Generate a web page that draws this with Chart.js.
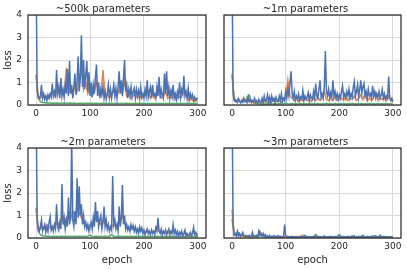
<!DOCTYPE html>
<html>
<head>
<meta charset="utf-8">
<script src="https://cdn.jsdelivr.net/npm/chart.js@4.4.0/dist/chart.umd.min.js"></script>
<style>
  body { margin: 0; background: #fff; width: 407px; height: 270px; overflow: hidden; position: relative; }
  .panel { position: absolute; }
</style>
</head>
<body>
<div class="panel" style="left:0;top:0"><canvas id="p500k" width="210" height="125"></canvas></div>
<div class="panel" style="left:210px;top:0"><canvas id="p1m" width="197" height="125"></canvas></div>
<div class="panel" style="left:0;top:133px"><canvas id="p2m" width="210" height="137"></canvas></div>
<div class="panel" style="left:210px;top:133px"><canvas id="p3m" width="197" height="137"></canvas></div>
<script>
// tick labels
const xTicks = [0, 100, 200, 300];
const yTicks = [0, 1, 2, 3, 4];

// blue is logged every 2 epochs, orange / green every 4
const blueStep = 2;
const otherStep = 4;

// ~500k parameters
const blue500k = [
  6.0,0.6,0.35,0.3,0.4,0.9,0.3,0.5,0.25,0.4,
  0.2,0.45,0.3,0.5,0.35,0.95,0.4,0.6,0.3,1.55,
  0.5,0.8,0.3,1.2,0.4,0.7,0.35,0.9,0.5,1.6,
  0.4,1.95,0.5,0.9,0.3,0.8,1.4,0.45,1.0,2.15,
  0.6,1.2,3.1,0.8,2.0,0.7,1.3,1.95,0.6,1.45,
  0.4,1.0,0.35,0.9,0.5,1.25,1.8,0.4,1.0,0.3,
  0.7,0.45,0.8,0.3,0.6,0.25,0.5,0.9,0.35,0.7,
  0.3,0.6,0.9,0.4,0.75,0.3,0.8,1.5,0.5,1.1,
  0.4,1.2,2.0,0.6,0.9,0.3,0.7,0.4,0.8,0.35,
  0.6,0.75,0.3,0.7,0.4,0.65,0.3,0.8,0.35,0.5,
  0.3,0.7,0.4,1.1,0.35,0.6,0.8,0.3,0.9,0.4,
  0.5,0.3,0.8,0.4,1.25,0.3,0.7,0.45,0.3,1.4,
  0.5,1.5,0.4,0.8,0.3,0.65,0.4,0.9,0.3,0.5,
  0.25,0.6,0.4,1.0,0.35,0.7,0.5,1.3,0.4,0.6,
  0.3,0.75,0.25,0.5,0.3,0.45,0.2,0.35,0.2,0.3,
  0.3
];
const orange500k = [
  1.35,0.4,0.3,0.5,0.35,0.4,0.3,0.5,0.6,0.4,
  0.9,0.5,0.6,0.4,1.65,0.5,0.8,0.4,0.9,0.6,
  1.0,1.8,0.7,1.0,0.5,0.8,0.4,0.6,1.0,0.5,
  0.4,1.55,0.4,0.5,0.3,0.5,0.6,0.4,0.5,0.9,
  0.5,1.1,0.4,0.5,0.3,0.4,0.5,0.3,0.4,0.3,
  0.5,0.4,0.6,0.3,0.5,0.3,0.4,0.7,0.3,0.4,
  0.6,0.3,0.4,0.3,0.5,0.2,0.4,0.3,0.5,0.6,
  0.3,0.2,0.3,0.15,0.2,0.2
];
const green500k = [
  1.3,0.3,0.15,0.11,0.1,0.09,0.1,0.08,0.09,0.08,
  0.09,0.08,0.08,0.09,0.08,0.08,0.09,0.08,0.08,0.07,
  0.08,0.08,0.07,0.08,0.08,0.07,0.08,0.07,0.08,0.07,
  0.07,0.08,0.07,0.07,0.08,0.07,0.07,0.08,0.07,0.07,
  0.07,0.07,0.08,0.07,0.07,0.07,0.07,0.07,0.08,0.07,
  0.07,0.07,0.07,0.07,0.07,0.07,0.07,0.07,0.07,0.07,
  0.07,0.07,0.07,0.07,0.07,0.07,0.07,0.07,0.07,0.07,
  0.07,0.07,0.07,0.07,0.07,0.07
];

// ~1m parameters
const blue1m = [
  6.0,0.5,0.2,0.15,0.2,0.12,0.25,0.15,0.1,0.2,
  0.12,0.3,0.15,0.2,0.1,0.35,0.15,0.25,0.1,0.2,
  0.15,0.3,0.12,0.2,0.1,0.25,0.15,0.1,0.3,0.12,
  0.4,0.15,0.2,0.45,0.15,0.35,0.1,0.4,0.2,0.3,
  0.12,0.35,0.2,0.15,0.4,0.2,0.5,0.15,0.3,0.2,
  0.6,0.3,0.7,0.4,1.0,1.5,0.5,0.3,0.6,0.2,
  0.4,0.25,0.5,0.2,0.35,0.25,0.65,0.2,0.4,0.25,
  0.35,0.55,0.2,0.45,0.3,0.25,0.6,0.3,0.95,0.4,
  0.3,0.7,1.1,0.35,0.5,0.3,0.8,2.4,0.6,0.4,
  0.7,0.3,0.55,0.35,1.1,0.4,0.6,0.3,0.5,0.25,
  0.45,0.3,0.6,0.85,0.35,0.5,0.3,0.6,0.4,0.7,
  0.3,0.5,0.35,0.8,1.05,0.4,0.6,0.9,0.35,0.7,
  1.1,0.5,0.8,0.95,0.4,0.6,0.3,0.7,0.4,0.5,
  0.3,0.85,0.4,0.6,0.3,0.5,0.35,0.6,0.3,0.45,
  0.7,0.3,0.5,0.25,0.4,0.3,1.27,0.35,0.2,0.3,
  0.15
];
const orange1m = [
  1.4,0.2,0.15,0.2,0.15,0.25,0.2,0.3,0.15,0.2,
  0.1,0.15,0.1,0.15,0.1,0.2,0.12,0.15,0.1,0.2,
  0.12,0.15,0.2,0.1,0.25,0.3,1.1,0.4,0.3,0.2,
  0.3,0.15,0.25,0.2,0.3,0.2,0.25,0.15,0.3,0.2,
  0.35,0.2,0.3,0.6,0.25,0.2,0.3,0.2,0.35,0.2,
  0.25,0.3,0.2,0.35,0.2,0.3,0.25,0.4,0.2,0.3,
  0.45,0.25,0.5,0.2,0.3,0.2,0.35,0.55,0.2,0.3,
  0.25,0.3,0.2,0.4,0.2,0.15
];
const green1m = [
  1.3,0.35,0.15,0.3,0.1,0.25,0.15,0.35,0.45,0.15,
  0.1,0.06,0.08,0.05,0.07,0.05,0.06,0.05,0.07,0.05,
  0.06,0.05,0.07,0.05,0.06,0.08,0.06,0.05,0.07,0.05,
  0.06,0.05,0.07,0.05,0.06,0.05,0.07,0.05,0.06,0.05,
  0.07,0.05,0.06,0.05,0.08,0.05,0.06,0.05,0.07,0.05,
  0.06,0.05,0.07,0.05,0.06,0.05,0.08,0.05,0.06,0.05,
  0.07,0.05,0.06,0.05,0.07,0.05,0.06,0.05,0.07,0.05,
  0.06,0.05,0.07,0.05,0.06,0.05
];

// ~2m parameters
const blue2m = [
  6.0,0.8,0.4,0.3,0.5,0.8,0.3,0.45,0.6,0.25,
  0.5,0.3,0.7,0.95,0.35,0.5,0.3,0.6,0.4,1.5,
  0.5,0.35,0.7,0.4,2.4,0.6,0.9,0.4,0.8,0.5,
  1.8,0.6,1.0,4.3,0.8,0.5,1.2,0.6,2.65,0.9,
  2.3,1.0,1.5,0.6,1.0,0.5,0.7,0.4,0.6,0.3,
  0.5,0.7,0.4,0.9,0.5,1.6,0.7,1.2,0.5,0.8,
  1.0,0.4,0.7,1.4,0.5,0.8,0.4,0.6,0.3,0.5,
  0.35,2.75,0.6,0.8,0.4,0.6,0.3,1.4,0.5,0.9,
  2.35,0.6,1.0,0.4,0.6,0.35,0.5,0.3,0.6,0.4,
  0.55,0.3,0.5,0.25,0.4,0.2,0.5,0.3,0.45,0.2,
  0.35,0.15,0.3,0.4,0.2,0.3,0.15,0.35,0.2,0.3,
  0.15,0.45,0.3,0.9,0.3,0.2,0.4,0.15,0.3,0.2,
  0.35,0.15,0.3,0.4,0.15,0.3,0.2,0.6,0.2,0.35,
  0.15,0.3,0.1,0.25,0.15,0.3,0.1,0.2,0.35,0.1,
  0.2,0.1,0.15,0.25,0.1,0.2,0.47,0.15,0.25,0.1,
  0.1
];
const orange2m = [
  1.35,0.5,0.4,0.5,0.4,0.6,0.5,0.4,0.5,0.6,
  0.7,0.5,1.0,0.6,0.9,1.0,0.8,1.2,0.9,1.4,
  1.1,0.9,0.7,0.6,0.5,0.6,0.5,0.8,0.9,0.7,
  0.6,0.8,0.6,0.5,0.45,0.5,0.6,0.5,0.6,0.7,
  1.0,0.7,0.5,0.4,0.5,0.4,0.35,0.4,0.3,0.35,
  0.3,0.25,0.3,0.2,0.3,0.25,0.5,0.3,0.25,0.2,
  0.25,0.2,0.3,0.25,0.3,0.2,0.15,0.2,0.15,0.2,
  0.15,0.1,0.15,0.3,0.2,0.15
];
const green2m = [
  1.3,0.3,0.15,0.1,0.09,0.08,0.08,0.07,0.08,0.07,
  0.08,0.07,0.08,0.07,0.08,0.07,0.08,0.07,0.08,0.07,
  0.08,0.07,0.08,0.07,0.08,0.13,0.08,0.07,0.08,0.07,
  0.08,0.07,0.08,0.07,0.08,0.15,0.08,0.07,0.08,0.07,
  0.08,0.07,0.08,0.07,0.08,0.07,0.08,0.07,0.08,0.07,
  0.08,0.07,0.08,0.07,0.08,0.07,0.08,0.07,0.08,0.07,
  0.08,0.07,0.08,0.07,0.08,0.07,0.08,0.07,0.08,0.07,
  0.08,0.07,0.08,0.07,0.08,0.07
];

// ~3m parameters
const blue3m = [
  6.0,0.6,0.15,0.2,0.1,0.3,0.1,0.2,0.08,0.15,
  0.25,0.08,0.12,0.05,0.1,0.06,0.12,0.05,0.08,0.25,
  0.06,0.1,0.05,0.12,0.06,0.3,0.1,0.2,0.08,0.2,
  0.06,0.15,0.05,0.1,0.05,0.12,0.04,0.08,0.05,0.1,
  0.04,0.08,0.05,0.1,0.04,0.08,0.05,0.06,0.04,0.6,
  0.1,0.05,0.08,0.03,0.06,0.04,0.08,0.03,0.06,0.04,
  0.07,0.03,0.05,0.04,0.08,0.03,0.06,0.04,0.1,0.03,
  0.05,0.04,0.07,0.03,0.05,0.04,0.06,0.03,0.08,0.04,
  0.05,0.03,0.07,0.04,0.05,0.03,0.09,0.04,0.05,0.03,
  0.06,0.04,0.08,0.03,0.05,0.04,0.07,0.03,0.06,0.04,
  0.1,0.03,0.05,0.04,0.07,0.03,0.06,0.04,0.08,0.03,
  0.05,0.04,0.07,0.03,0.1,0.04,0.05,0.03,0.08,0.04,
  0.06,0.03,0.09,0.04,0.05,0.03,0.07,0.04,0.06,0.03,
  0.08,0.04,0.05,0.03,0.1,0.04,0.06,0.03,0.12,0.04,
  0.05,0.03,0.07,0.04,0.06,0.03,0.05,0.04,0.06,0.03,
  0.05
];
const orange3m = [
  1.25,0.1,0.08,0.15,0.06,0.1,0.05,0.08,0.05,0.06,
  0.05,0.08,0.05,0.25,0.1,0.06,0.05,0.04,0.06,0.04,
  0.05,0.04,0.06,0.04,0.08,0.04,0.05,0.04,0.05,0.04,
  0.05,0.04,0.05,0.12,0.04,0.05,0.04,0.05,0.04,0.05,
  0.04,0.05,0.04,0.06,0.04,0.05,0.04,0.05,0.04,0.05,
  0.08,0.04,0.05,0.04,0.05,0.04,0.05,0.04,0.05,0.04,
  0.05,0.04,0.05,0.04,0.06,0.04,0.05,0.04,0.05,0.04,
  0.05,0.04,0.05,0.04,0.05,0.04
];
const green3m = [
  0.85,0.15,0.2,0.25,0.1,0.15,0.08,0.1,0.06,0.08,
  0.1,0.06,0.05,0.3,0.1,0.08,0.05,0.06,0.05,0.06,
  0.05,0.06,0.05,0.06,0.05,0.06,0.05,0.06,0.05,0.06,
  0.05,0.06,0.05,0.06,0.12,0.05,0.06,0.05,0.06,0.15,
  0.05,0.06,0.05,0.06,0.05,0.06,0.05,0.06,0.05,0.06,
  0.15,0.05,0.06,0.05,0.06,0.05,0.1,0.05,0.06,0.05,
  0.06,0.12,0.05,0.06,0.05,0.06,0.1,0.05,0.06,0.05,
  0.08,0.05,0.06,0.05,0.06,0.05
];

const FONT = "'DejaVu Sans', sans-serif";
const TEXT = '#262626';
const GRID = '#dadada';

// matplotlib-style box round the plot area
const frame = {
  id: 'frame',
  afterDatasetsDraw(chart) {
    const a = chart.chartArea;
    const ctx = chart.ctx;
    ctx.save();
    ctx.strokeStyle = '#2b2b2b';
    ctx.lineWidth = 1.25;
    ctx.strokeRect(a.left, a.top, a.right - a.left, a.bottom - a.top);
    ctx.restore();
  }
};

function toPoints(values, step) {
  return values.map((y, i) => ({ x: i * step, y: y }));
}

function line(data, color) {
  return {
    data: data,
    borderColor: color,
    borderWidth: 1.5,
    pointRadius: 0,
    tension: 0,
    fill: false
  };
}

function makePanel(id, title, blue, orange, green, leftCol, bottomRow) {
  const ctx = document.getElementById(id).getContext('2d');
  return new Chart(ctx, {
    type: 'line',
    data: {
      datasets: [
        line(toPoints(blue, blueStep), '#4c72b0'),
        line(toPoints(orange, otherStep), '#dd8452'),
        line(toPoints(green, otherStep), '#55a868')
      ]
    },
    plugins: [frame],
    options: {
      responsive: false,
      animation: false,
      devicePixelRatio: 1,
      layout: { padding: { left: 0, top: 0, bottom: 0, right: leftCol ? 4 : 6 } },
      plugins: {
        legend: { display: false },
        tooltip: { enabled: false },
        title: {
          display: true,
          text: title,
          color: TEXT,
          font: { family: FONT, size: 10, weight: 'normal' },
          padding: { top: 3, bottom: 0 }
        }
      },
      scales: {
        x: {
          type: 'linear',
          min: -15,
          max: 315,
          afterBuildTicks: (scale) => { scale.ticks = xTicks.map(v => ({ value: v })); },
          afterFit: (scale) => { scale.height = bottomRow ? 32 : 20; },
          ticks: {
            color: TEXT,
            font: { family: FONT, size: 9 },
            padding: 3,
            maxRotation: 0,
            autoSkip: false
          },
          grid: { color: GRID, lineWidth: 1, drawTicks: false },
          border: { display: false },
          title: {
            display: bottomRow,
            text: 'epoch',
            color: TEXT,
            font: { family: FONT, size: 10 },
            padding: { top: 0, bottom: 4 }
          }
        },
        y: {
          min: 0,
          max: 4,
          afterBuildTicks: (scale) => { scale.ticks = yTicks.map(v => ({ value: v })); },
          afterFit: (scale) => { scale.width = leftCol ? 28 : 14; },
          ticks: {
            display: leftCol,
            color: TEXT,
            font: { family: FONT, size: 9 },
            padding: 6
          },
          grid: { color: GRID, lineWidth: 1, drawTicks: false },
          border: { display: false },
          title: {
            display: leftCol,
            text: 'loss',
            color: TEXT,
            font: { family: FONT, size: 10 },
            padding: { top: 2, bottom: 0 }
          }
        }
      }
    }
  });
}

makePanel('p500k', '~500k parameters', blue500k, orange500k, green500k, true, false);
makePanel('p1m', '~1m parameters', blue1m, orange1m, green1m, false, false);
makePanel('p2m', '~2m parameters', blue2m, orange2m, green2m, true, true);
makePanel('p3m', '~3m parameters', blue3m, orange3m, green3m, false, true);
</script>
</body>
</html>
